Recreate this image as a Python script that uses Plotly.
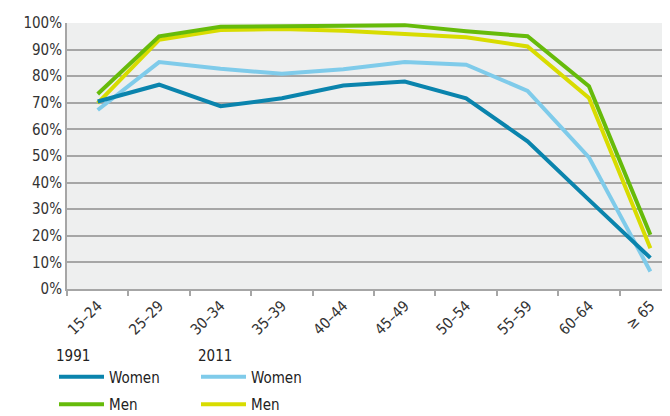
import plotly.graph_objects as go

categories = ["15–24", "25–29", "30–34", "35–39", "40–44", "45–49", "50–54", "55–59", "60–64", "≥ 65"]
women_1991 = [70.5, 76.8, 68.7, 71.7, 76.5, 78.0, 71.7, 55.5, 33.5, 11.7]
men_1991 = [73.3, 95.0, 98.6, 98.8, 99.0, 99.2, 96.9, 95.0, 76.2, 20.4]
women_2011 = [67.3, 85.3, 82.8, 80.9, 82.6, 85.3, 84.3, 74.5, 49.5, 6.6]
men_2011 = [69.9, 93.7, 97.4, 97.7, 97.1, 95.8, 94.6, 91.2, 71.8, 15.3]
yticks = [0, 10, 20, 30, 40, 50, 60, 70, 80, 90, 100]
ytick_labels = [f"{v}%" for v in yticks]

FONT = "Liberation Sans Narrow, DejaVu Sans Condensed, Roboto, sans-serif"
C_W91 = "#0a84ad"
C_M91 = "#66bb0a"
C_W11 = "#7fcbea"
C_M11 = "#d8dc00"

fig = go.Figure()
fig.add_trace(go.Scatter(x=categories, y=women_2011, mode="lines", name="Women",
                         line=dict(color=C_W11, width=4), legend="legend2", legendgroup="w11"))
fig.add_trace(go.Scatter(x=categories, y=men_2011, mode="lines", name="Men",
                         line=dict(color=C_M11, width=4), legend="legend2", legendgroup="m11"))
fig.add_trace(go.Scatter(x=categories, y=women_1991, mode="lines", name="Women",
                         line=dict(color=C_W91, width=4), legend="legend", legendgroup="w91"))
fig.add_trace(go.Scatter(x=categories, y=men_1991, mode="lines", name="Men",
                         line=dict(color=C_M91, width=4), legend="legend", legendgroup="m91"))

legend_common = dict(
    orientation="v", xref="container", yref="container", xanchor="left", yanchor="top",
    font=dict(family=FONT, size=15, color="#222"), bgcolor="rgba(0,0,0,0)",
    traceorder="grouped", tracegroupgap=5, itemwidth=45,
    itemclick=False, itemdoubleclick=False,
)

fig.update_layout(
    width=670, height=416,
    margin=dict(l=59, r=0, t=15, b=135, autoexpand=False),
    paper_bgcolor="white", plot_bgcolor="#eeefef",
    font=dict(family=FONT, size=14, color="#333"),
    showlegend=True,
    legend=dict(**legend_common, x=46 / 670, y=1 - 333 / 416,
                title=dict(text="1991", font=dict(family=FONT, size=15, color="#222"))),
    legend2=dict(**legend_common, x=188 / 670, y=1 - 333 / 416,
                 title=dict(text="2011", font=dict(family=FONT, size=15, color="#222"))),
    xaxis=dict(type="category", range=[-0.5, 9.45], tickangle=-45, tickson="boundaries",
               ticks="outside", ticklen=5, tickcolor="#a6a6a6", tickwidth=1.5,
               showline=True, linecolor="#a6a6a6", linewidth=2, showgrid=False,
               tickfont=dict(family=FONT, size=15, color="#333")),
    yaxis=dict(range=[0, 100], tickvals=yticks, ticktext=ytick_labels,
               showgrid=True, gridcolor="#a6a6a6", gridwidth=2,
               showline=True, linecolor="#a6a6a6", linewidth=2,
               ticks="", zeroline=False,
               tickfont=dict(family=FONT, size=15, color="#333")),
)

fig.write_html("out.html")
